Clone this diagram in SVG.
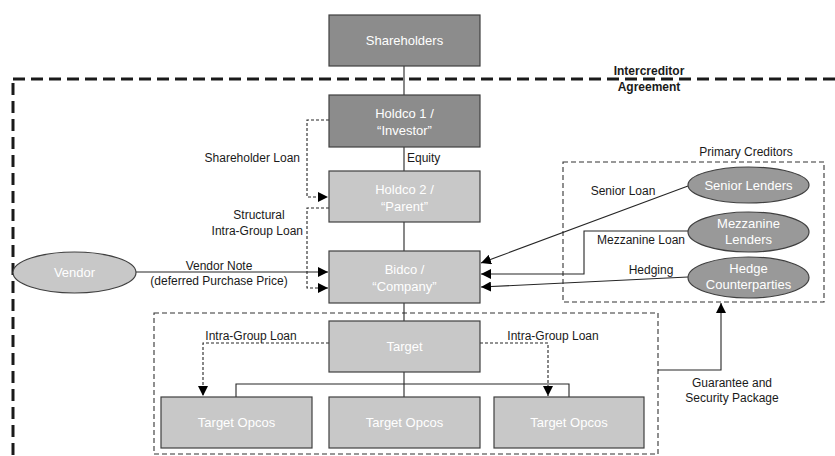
<svg xmlns="http://www.w3.org/2000/svg" width="835" height="456" viewBox="0 0 835 456">
<defs>
<style>
text{font-family:"Liberation Sans",Arial,sans-serif;}
.lbl{font-size:12px;fill:#1a1a1a;}
.nt{font-size:13px;fill:#ffffff;text-anchor:middle;}
.dark{fill:#8c8c8c;stroke:#404040;stroke-width:1.2;}
.light{fill:#c8c8c8;stroke:#404040;stroke-width:1.2;}
.ell{fill:#999999;stroke:#404040;stroke-width:1.2;}
.vend{fill:#c8c8c8;stroke:#404040;stroke-width:1.2;}
.ln{fill:none;stroke:#262626;stroke-width:1.1;}
.dl{fill:none;stroke:#262626;stroke-width:1.1;stroke-dasharray:3,2;}
.grp{fill:none;stroke:#333;stroke-width:1.1;stroke-dasharray:5,3;}
</style>
<marker id="ah" viewBox="0 0 10 10" refX="10" refY="5" markerWidth="10" markerHeight="10" markerUnits="userSpaceOnUse" orient="auto">
<path d="M0,0 L10,5 L0,10 z" fill="#000"/>
</marker>
</defs>
<rect width="835" height="456" fill="#fff"/>

<g id="intercreditor">
<rect x="13" y="79" width="850" height="400" fill="none" stroke="#1a1a1a" stroke-width="3" stroke-dasharray="12,6"/>
<text x="649" y="75" font-size="12" font-weight="bold" text-anchor="middle" fill="#1a1a1a">Intercreditor</text>
<text x="649" y="91" font-size="12" font-weight="bold" text-anchor="middle" fill="#1a1a1a">Agreement</text>
</g>

<g id="primary-creditors-group">
<rect class="grp" x="563" y="162" width="261" height="140"/>
<text class="lbl" x="746" y="156" text-anchor="middle">Primary Creditors</text>
</g>
<g id="target-group">
<rect class="grp" x="154" y="313" width="504" height="141"/>
</g>

<g id="connectors">
<line class="ln" x1="404" y1="66" x2="404" y2="95"/>
<line class="ln" x1="404" y1="147" x2="404" y2="171"/>
<line class="ln" x1="404" y1="222" x2="404" y2="251"/>
<line class="ln" x1="404" y1="303" x2="404" y2="321"/>
<line class="ln" x1="404" y1="372" x2="404" y2="397"/>
<polyline class="ln" points="236,397 236,384 569,384 569,397"/>
<path class="dl" d="M329,120 H307 V197 H328" marker-end="url(#ah)"/>
<path class="dl" d="M329,208 H307 V288 H328" marker-end="url(#ah)"/>
<line class="ln" x1="136" y1="272" x2="328" y2="272" marker-end="url(#ah)"/>
<line class="ln" x1="688" y1="186" x2="481" y2="263" marker-end="url(#ah)"/>
<path class="ln" d="M688,231 H584 V274 H481" marker-end="url(#ah)"/>
<line class="ln" x1="688" y1="277" x2="481" y2="287" marker-end="url(#ah)"/>
<path class="dl" d="M329,343 H203 V396" marker-end="url(#ah)"/>
<path class="dl" d="M480,343 H548 V396" marker-end="url(#ah)"/>
<path class="ln" d="M658,370 H721 V303" marker-end="url(#ah)"/>
<text class="lbl" x="407" y="162">Equity</text>
<text class="lbl" x="300" y="162" text-anchor="end">Shareholder Loan</text>
<text class="lbl" x="259" y="219" text-anchor="middle">Structural</text>
<text class="lbl" x="303" y="235" text-anchor="end">Intra-Group Loan</text>
<text class="lbl" x="219" y="270" text-anchor="middle">Vendor Note</text>
<text class="lbl" x="219" y="285" text-anchor="middle">(deferred Purchase Price)</text>
<text class="lbl" x="623" y="195" text-anchor="middle">Senior Loan</text>
<text class="lbl" x="641" y="244" text-anchor="middle">Mezzanine Loan</text>
<text class="lbl" x="651" y="274" text-anchor="middle">Hedging</text>
<text class="lbl" x="251" y="340" text-anchor="middle">Intra-Group Loan</text>
<text class="lbl" x="553" y="340" text-anchor="middle">Intra-Group Loan</text>
<text class="lbl" x="732" y="387" text-anchor="middle">Guarantee and</text>
<text class="lbl" x="732" y="402" text-anchor="middle">Security Package</text>
</g>

<g id="shareholders">
<rect class="dark" x="329" y="15" width="151" height="51"/>
<text class="nt" x="404.5" y="45">Shareholders</text>
</g>
<g id="holdco1">
<rect class="dark" x="329" y="95" width="151" height="52"/>
<text class="nt" x="404.5" y="118">Holdco 1 /</text>
<text class="nt" x="404.5" y="135">“Investor”</text>
</g>
<g id="holdco2">
<rect class="light" x="329" y="171" width="151" height="51"/>
<text class="nt" x="404.5" y="194">Holdco 2 /</text>
<text class="nt" x="404.5" y="211">“Parent”</text>
</g>
<g id="bidco">
<rect class="light" x="329" y="251" width="151" height="52"/>
<text class="nt" x="404.5" y="274">Bidco /</text>
<text class="nt" x="404.5" y="291">“Company”</text>
</g>
<g id="target">
<rect class="light" x="329" y="321" width="151" height="51"/>
<text class="nt" x="404.5" y="351">Target</text>
</g>
<g id="opco-left">
<rect class="light" x="161" y="397" width="151" height="51"/>
<text class="nt" x="236.5" y="427">Target Opcos</text>
</g>
<g id="opco-mid">
<rect class="light" x="329" y="397" width="151" height="51"/>
<text class="nt" x="404.5" y="427">Target Opcos</text>
</g>
<g id="opco-right">
<rect class="light" x="494" y="397" width="150" height="51"/>
<text class="nt" x="569" y="427">Target Opcos</text>
</g>
<g id="vendor">
<ellipse class="vend" cx="74.5" cy="272.5" rx="61.5" ry="20.5"/>
<text class="nt" x="74.5" y="277">Vendor</text>
</g>
<g id="senior-lenders">
<ellipse class="ell" cx="748.5" cy="185" rx="60.5" ry="18"/>
<text class="nt" x="748.5" y="190">Senior Lenders</text>
</g>
<g id="mezzanine-lenders">
<ellipse class="ell" cx="748.5" cy="232" rx="60.5" ry="20"/>
<text class="nt" x="748.5" y="228">Mezzanine</text>
<text class="nt" x="748.5" y="244">Lenders</text>
</g>
<g id="hedge-counterparties">
<ellipse class="ell" cx="748.5" cy="277.5" rx="60.5" ry="20.5"/>
<text class="nt" x="748.5" y="273">Hedge</text>
<text class="nt" x="748.5" y="289">Counterparties</text>
</g>
</svg>
